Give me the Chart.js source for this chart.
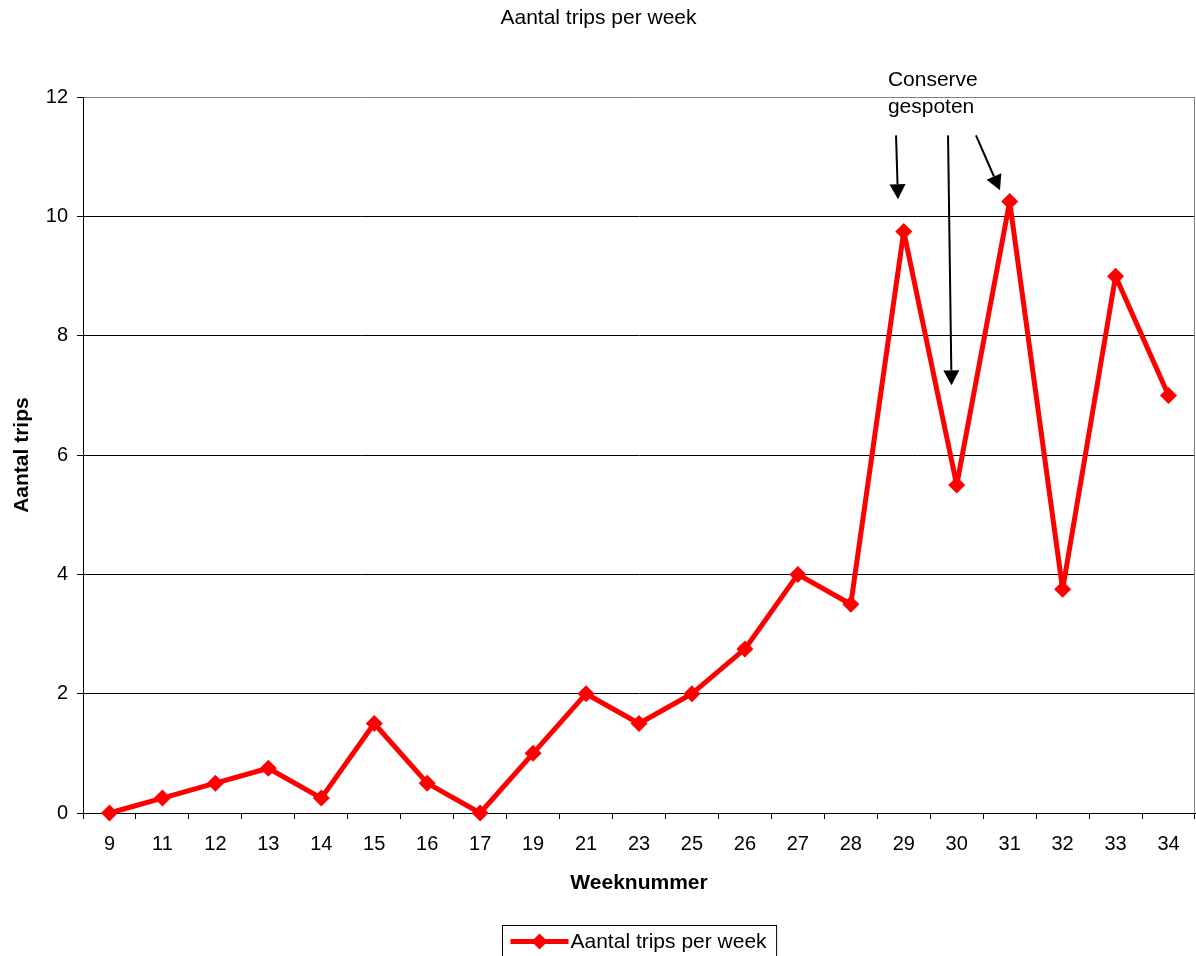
<!DOCTYPE html>
<html>
<head>
<meta charset="utf-8">
<script src="https://cdn.jsdelivr.net/npm/chart.js@4/dist/chart.umd.min.js"></script>
<style>
  html, body { margin: 0; padding: 0; background: #fff; }
  #wrap { width: 1196px; height: 956px; }
</style>
</head>
<body>
<div id="wrap"><canvas id="c" width="1196" height="956"></canvas></div>
<script>
// Week numbers and trip counts per week
const weeks = ['9','11','12','13','14','15','16','17','19','21','23','25','26','27','28','29','30','31','32','33','34'];
const trips = [0, 0.25, 0.5, 0.75, 0.25, 1.5, 0.5, 0, 1, 2, 1.5, 2, 2.75, 4, 3.5, 9.75, 5.5, 10.25, 3.75, 9, 7];
const yTicks = [0, 2, 4, 6, 8, 10, 12];

const chartTitle = 'Aantal trips per week';
const seriesLabel = 'Aantal trips per week';
const xTitle = 'Weeknummer';
const yTitle = 'Aantal trips';

// Spraying note: text lines and arrows, in category-index / value coordinates
const noteLines = ['Conserve', 'gespoten'];
const noteAnchor = [14.70, 12.18];          // left x, first baseline
const noteLineStep = 0.44;                   // baseline step in value units
const noteArrows = [
  [14.854, 11.36, 14.891, 10.29],
  [15.836, 11.36, 15.902, 7.17],
  [16.364, 11.36, 16.817, 10.44]
];

const FONT = '"Liberation Sans", Arial, sans-serif';

const decor = {
  id: 'decor',
  afterDraw(chart) {
    const ctx = chart.ctx;
    const a = chart.chartArea;
    const xs = chart.scales.x, ys = chart.scales.y;
    ctx.save();
    // right border of the plot area
    ctx.strokeStyle = '#808080';
    ctx.lineWidth = 1;
    ctx.beginPath();
    ctx.moveTo(Math.round(a.right) - 0.5, a.top);
    ctx.lineTo(Math.round(a.right) - 0.5, a.bottom);
    ctx.stroke();

    // note text
    ctx.fillStyle = '#000';
    ctx.font = '21px ' + FONT;
    ctx.textAlign = 'left';
    ctx.textBaseline = 'alphabetic';
    noteLines.forEach((t, i) => {
      ctx.fillText(t, xs.getPixelForValue(noteAnchor[0]), ys.getPixelForValue(noteAnchor[1] - i * noteLineStep));
    });

    // arrows
    noteArrows.forEach(([x0, y0, x1, y1]) => {
      const px0 = xs.getPixelForValue(x0), py0 = ys.getPixelForValue(y0);
      const px1 = xs.getPixelForValue(x1), py1 = ys.getPixelForValue(y1);
      const ang = Math.atan2(py1 - py0, px1 - px0);
      const headLen = 15, headHalf = 8;
      const bx = px1 - headLen * Math.cos(ang), by = py1 - headLen * Math.sin(ang);
      ctx.strokeStyle = '#000';
      ctx.lineWidth = 2;
      ctx.beginPath();
      ctx.moveTo(px0, py0);
      ctx.lineTo(bx, by);
      ctx.stroke();
      ctx.beginPath();
      ctx.moveTo(px1, py1);
      ctx.lineTo(bx + headHalf * Math.sin(ang), by - headHalf * Math.cos(ang));
      ctx.lineTo(bx - headHalf * Math.sin(ang), by + headHalf * Math.cos(ang));
      ctx.closePath();
      ctx.fillStyle = '#000';
      ctx.fill();
    });

    // legend box at the bottom
    const ds = chart.data.datasets[0];
    ctx.font = '21px ' + FONT;
    const tw = ctx.measureText(ds.label).width;
    const boxW = 8 + 58 + 2 + tw + 10;
    const boxH = 32;
    const cx = (a.left + a.right) / 2;
    const bxL = Math.round(cx - boxW / 2) + 0.5;
    const byT = chart.height - boxH + 1.5;
    ctx.strokeStyle = '#000';
    ctx.lineWidth = 1;
    ctx.strokeRect(bxL, byT, boxW, boxH);
    const my = byT + 16;
    ctx.strokeStyle = ds.borderColor;
    ctx.lineWidth = ds.borderWidth;
    ctx.beginPath();
    ctx.moveTo(bxL + 8, my);
    ctx.lineTo(bxL + 66, my);
    ctx.stroke();
    ctx.fillStyle = ds.pointBackgroundColor;
    const r = 8, mx = bxL + 37;
    ctx.beginPath();
    ctx.moveTo(mx, my - r); ctx.lineTo(mx + r, my); ctx.lineTo(mx, my + r); ctx.lineTo(mx - r, my);
    ctx.closePath();
    ctx.fill();
    ctx.fillStyle = '#000';
    ctx.textBaseline = 'middle';
    ctx.fillText(ds.label, bxL + 68, my + 1);
    ctx.restore();
  }
};

new Chart(document.getElementById('c'), {
  type: 'line',
  data: {
    labels: weeks,
    datasets: [{
      label: seriesLabel,
      data: trips,
      borderColor: '#ff0000',
      backgroundColor: '#ff0000',
      borderWidth: 5,
      borderJoinStyle: 'round',
      borderCapStyle: 'round',
      pointStyle: 'rectRot',
      pointRadius: 8.5,
      pointBorderWidth: 0,
      pointBackgroundColor: '#ff0000',
      pointBorderColor: '#ff0000',
      tension: 0,
      clip: false
    }]
  },
  options: {
    responsive: false,
    animation: false,
    devicePixelRatio: 1,
    layout: { autoPadding: false, padding: { left: 2, right: 1, top: 0, bottom: 50 } },
    plugins: {
      legend: { display: false },
      tooltip: { enabled: false },
      title: {
        display: true,
        text: chartTitle,
        color: '#000',
        font: { family: FONT, size: 21, weight: 'normal' },
        padding: { top: 6, bottom: 66 }
      }
    },
    scales: {
      x: {
        type: 'category',
        offset: true,
        grid: { display: true, offset: true, drawOnChartArea: false, drawTicks: true, tickLength: 6, color: '#000', lineWidth: 1 },
        border: { display: true, color: '#000', width: 1 },
        ticks: { color: '#000', font: { family: FONT, size: 20 }, padding: 13, maxRotation: 0, autoSkip: false },
        title: { display: true, text: xTitle, color: '#000', font: { family: FONT, size: 21, weight: 'bold' }, padding: { top: 0, bottom: 10 } },
        afterFit(s) { s.height = 93; s.paddingLeft = 0; s.paddingRight = 0; }
      },
      y: {
        min: 0,
        max: 12,
        afterBuildTicks(s) { s.ticks = yTicks.map(v => ({ value: v })); },
        grid: {
          color: c => (c.tick && c.tick.value === 12 ? '#808080' : '#000'),
          tickColor: '#000',
          lineWidth: 1,
          drawTicks: true,
          tickLength: 6
        },
        border: { display: true, color: '#000', width: 1 },
        ticks: { color: '#000', font: { family: FONT, size: 20 }, padding: 9 },
        title: { display: true, text: yTitle, color: '#000', font: { family: FONT, size: 21, weight: 'bold' }, padding: { top: 8, bottom: 0 } },
        afterFit(s) { s.width = 81; }
      }
    }
  },
  plugins: [decor]
});
</script>
</body>
</html>
